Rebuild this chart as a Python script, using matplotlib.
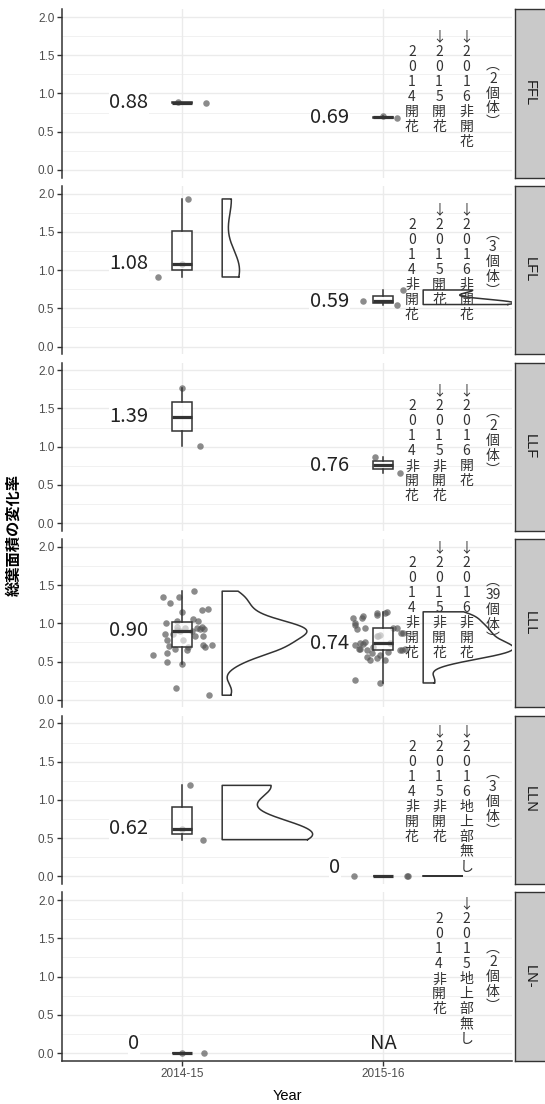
import matplotlib
matplotlib.use("Agg")
import matplotlib.pyplot as plt
import numpy as np

plt.rcParams['font.family'] = ['Liberation Sans', 'Noto Sans CJK JP', 'DejaVu Sans']
JP = ['Noto Sans CJK JP', 'DejaVu Sans']

panels = ["FFL", "LFL", "LLF", "LLL", "LLN", "LN-"]
years = ["2014-15", "2015-16"]

# values (one list per panel/year), plus the jitter offsets
ffl_14 = [0.87, 0.89]
ffl_14_jit = [0.12, -0.02]
ffl_15 = [0.68, 0.70]
ffl_15_jit = [0.07, 0.0]

lfl_14 = [0.91, 1.08, 1.93]
lfl_14_jit = [-0.12, 0.0, 0.03]
lfl_15 = [0.55, 0.59, 0.74]
lfl_15_jit = [0.07, -0.10, 0.10]

llf_14 = [1.01, 1.77]
llf_14_jit = [0.09, 0.0]
llf_15 = [0.66, 0.86]
llf_15_jit = [0.085, -0.04]

lll_14 = [1.34, 1.27, 1.34, 1.42, 1.145, 1.17, 1.19, 1.01, 1.03, 1.05, 1.03, 0.95, 0.925,
          0.86, 0.95, 0.91, 0.84, 0.92, 0.69, 0.71, 0.70, 0.59, 0.61, 0.47, 0.50, 0.16,
          0.06, 0.72, 0.69, 0.94, 0.94, 0.86, 0.90, 0.90, 0.83, 0.78, 0.67, 0.65, 0.78]
lll_14_jit = [-0.093, -0.06, -0.015, 0.06, 0.0, 0.098, 0.131, -0.08, -0.026, 0.056, 0.081,
              0.098, 0.109, -0.085, -0.023, -0.026, 0.065, 0.09, 0.114, 0.148, -0.063,
              -0.143, -0.073, 0.0, -0.076, -0.031, 0.134, 0.106, 0.031, 0.073, 0.015,
              -0.043, -0.01, 0.048, 0.103, 0.007, -0.035, 0.023, -0.076]
lll_15 = [1.00, 1.07, 1.14, 1.15, 0.92, 0.94, 0.72, 0.73, 0.84, 0.85, 0.67, 0.65, 0.94,
          0.87, 0.65, 0.67, 0.56, 0.54, 0.58, 0.52, 0.52, 0.26, 0.22, 0.74, 0.63, 0.69,
          0.74, 1.07, 1.09, 0.98, 1.11, 1.14, 0.94, 0.87, 0.65, 0.76, 0.61, 0.67, 0.83]
lll_15_jit = [-0.14, -0.106, -0.03, 0.02, -0.13, -0.09, -0.14, -0.10, -0.03, -0.015, -0.12,
              -0.08, 0.07, 0.09, 0.085, 0.11, -0.08, -0.03, -0.015, -0.065, 0.01, -0.14,
              -0.015, 0.035, 0.026, -0.05, -0.115, -0.148, -0.098, -0.14, -0.03, 0.01,
              0.05, 0.10, 0.093, -0.09, -0.056, -0.115, -0.025]

lln_14 = [0.48, 0.62, 1.19]
lln_14_jit = [0.105, 0.0, 0.04]
lln_15 = [0.0, 0.0, 0.0]
lln_15_jit = [-0.145, 0.12, 0.125]

lnx_14 = [0.0, 0.0]
lnx_14_jit = [0.11, 0.0]
lnx_15 = []
lnx_15_jit = []

# notes written down the right side of each panel
notes_ffl = ["2014開花", "↓2015開花", "↓2016非開花"]
notes_lfl = ["2014非開花", "↓2015開花", "↓2016非開花"]
notes_llf = ["2014非開花", "↓2015非開花", "↓2016開花"]
notes_lll = ["2014非開花", "↓2015非開花", "↓2016非開花"]
notes_lln = ["2014非開花", "↓2015非開花", "↓2016地上部無し"]
notes_lnx = ["2014非開花", "↓2015地上部無し"]
counts = ["2", "3", "2", "39", "3", "2"]

data = {
    "FFL": [(ffl_14, ffl_14_jit), (ffl_15, ffl_15_jit)],
    "LFL": [(lfl_14, lfl_14_jit), (lfl_15, lfl_15_jit)],
    "LLF": [(llf_14, llf_14_jit), (llf_15, llf_15_jit)],
    "LLL": [(lll_14, lll_14_jit), (lll_15, lll_15_jit)],
    "LLN": [(lln_14, lln_14_jit), (lln_15, lln_15_jit)],
    "LN-": [(lnx_14, lnx_14_jit), (lnx_15, lnx_15_jit)],
}
notes = [notes_ffl, notes_lfl, notes_llf, notes_lll, notes_lln, notes_lnx]

# where the note columns sit in each panel
note_top = [1.84, 1.88, 1.82, 2.08, 1.99, 2.04]
paren_mid = [1.0, 1.1, 1.07, 1.17, 0.97, 0.99]
col_x = [2.144, 2.279, 2.415]
paren_x = 2.547
char_step = 0.196

W, H = 545, 1104
ax_l, ax_r = 62, 512
top0, step_px, ph = 9.35, 176.6, 168.3
dark = '#333333'


def kde(v):
    v = np.asarray(v, float)
    n = len(v)
    sd = v.std(ddof=1)
    q75, q25 = np.percentile(v, [75, 25])
    lo = min(sd, (q75 - q25) / 1.34)
    if not lo:
        lo = sd or abs(v[0]) or 1.0
    bw = 0.9 * lo * n ** -0.2
    ys = np.linspace(v.min(), v.max(), 512)
    d = np.exp(-0.5 * ((ys[:, None] - v[None, :]) / bw) ** 2).sum(1) / (n * bw * np.sqrt(2 * np.pi))
    return ys, d


fig = plt.figure(figsize=(W / 100, H / 100), dpi=100)

for i, name in enumerate(panels):
    tpx = top0 + step_px * i
    ax = fig.add_axes([ax_l / W, 1 - (tpx + ph) / H, (ax_r - ax_l) / W, ph / H])
    ax.set_xlim(0.403, 2.642)
    ax.set_ylim(-0.1, 2.1)
    ax.set_yticks([0, 0.5, 1.0, 1.5, 2.0])
    ax.set_yticklabels(["0.0", "0.5", "1.0", "1.5", "2.0"])
    ax.set_yticks([0.25, 0.75, 1.25, 1.75], minor=True)
    ax.set_xticks([1, 2])
    ax.grid(which='major', color='#ebebeb', lw=1.0, zorder=0)
    ax.grid(which='minor', axis='y', color='#ebebeb', lw=0.5, zorder=0)
    ax.set_axisbelow(True)
    for s in ['top', 'right']:
        ax.spines[s].set_visible(False)
    ax.spines['left'].set_color(dark)
    ax.spines['left'].set_linewidth(1.1)
    ax.tick_params(axis='y', which='major', length=3.5, width=1.0, color=dark,
                   labelsize=8.5, labelcolor='#4d4d4d', pad=2)
    ax.tick_params(axis='y', which='minor', length=0)
    if i == len(panels) - 1:
        ax.spines['bottom'].set_color(dark)
        ax.spines['bottom'].set_linewidth(1.1)
        ax.set_xticklabels(years)
        ax.tick_params(axis='x', length=3.5, width=1.0, color=dark,
                       labelsize=8.5, labelcolor='#4d4d4d', pad=2)
    else:
        ax.spines['bottom'].set_visible(False)
        ax.tick_params(axis='x', length=0, labelbottom=False)

    groups = data[name]
    dens = []
    for j, (vals, jit) in enumerate(groups):
        if len(vals) >= 3:
            dens.append((j, kde(vals)))
    pmax = max([d.max() for _, (_, d) in dens], default=1.0)

    for j, (vals, jit) in enumerate(groups):
        x = j + 1
        if len(vals) == 0:
            ax.text(x, 0.12, "NA", family=JP, fontsize=14.5, color='#222222',
                    ha='center', va='center', zorder=4)
            continue
        ax.scatter(np.array(jit) + x, vals, s=22, color='#555555', alpha=0.68,
                   lw=0, zorder=2)
        ax.boxplot([vals], positions=[x], widths=0.1, whis=1.5, showfliers=False,
                   showcaps=False, patch_artist=True, manage_ticks=False,
                   boxprops=dict(facecolor=(1, 1, 1, 0.6), edgecolor=dark, lw=1.1),
                   whiskerprops=dict(color=dark, lw=1.1),
                   medianprops=dict(color=dark, lw=2.3), zorder=3)
        med = float(np.median(vals))
        if med == 0:
            lx, ly, txt = x - 0.24, 0.12, "0"
        else:
            lx, ly, txt = x - 0.265, med, f"{med:.2f}"
        ax.text(lx, ly, txt, family=JP, fontsize=14.5, color='#222222',
                ha='center', va='center', zorder=4,
                bbox=dict(facecolor='white', edgecolor='none', pad=0.5))

    for j, (ys, d) in dens:
        x0 = j + 1 + 0.2
        xs = x0 + 0.45 * d / pmax
        px = np.concatenate([xs, [x0, x0, xs[0]]])
        py = np.concatenate([ys, [ys[-1], ys[0], ys[0]]])
        ax.plot(px, py, color=dark, lw=1.1, zorder=3, solid_joinstyle='round')

    # vertical notes, one character per row
    cols = col_x if len(notes[i]) == 3 else col_x[1:]
    for cx, s in zip(cols, notes[i]):
        chars = list(s)
        start = 0 if chars[0] == "↓" else 1
        for k, ch in enumerate(chars):
            ax.text(cx, note_top[i] - (start + k + 0.5) * char_step, ch, family=JP,
                    fontsize=10, color='#333333', ha='center', va='center', zorder=5)
    # the count in brackets, brackets take a bit less than a row
    rows = [(-0.9, "︵"), (0, counts[i]), (1, "個"), (2, "体"), (2.9, "︶")]
    for off, ch in rows:
        ax.text(paren_x, paren_mid[i] + (1 - off) * char_step, ch, family=JP,
                fontsize=10, color='#333333', ha='center', va='center', zorder=5)

    # facet strip on the right
    sax = fig.add_axes([515 / W, 1 - (tpx + ph) / H, 45 / W, ph / H])
    sax.set_facecolor('#c9c9c9')
    sax.set_xticks([])
    sax.set_yticks([])
    for s in sax.spines.values():
        s.set_color(dark)
        s.set_linewidth(1.0)
    fig.text(530 / W, 1 - (tpx + ph / 2) / H, name, rotation=-90, fontsize=10.5,
             color='#1a1a1a', ha='center', va='center')

fig.text(14 / W, 1 - (top0 + (5 * step_px + ph) / 2) / H, "総葉面積の変化率",
         rotation=90, family=JP, fontweight='bold', fontsize=11, ha='center', va='center')
fig.text((ax_l + ax_r) / 2 / W, 1 - 1096 / H, "Year", fontsize=10.5,
         ha='center', va='center')

fig.savefig("out.png", dpi=100)
